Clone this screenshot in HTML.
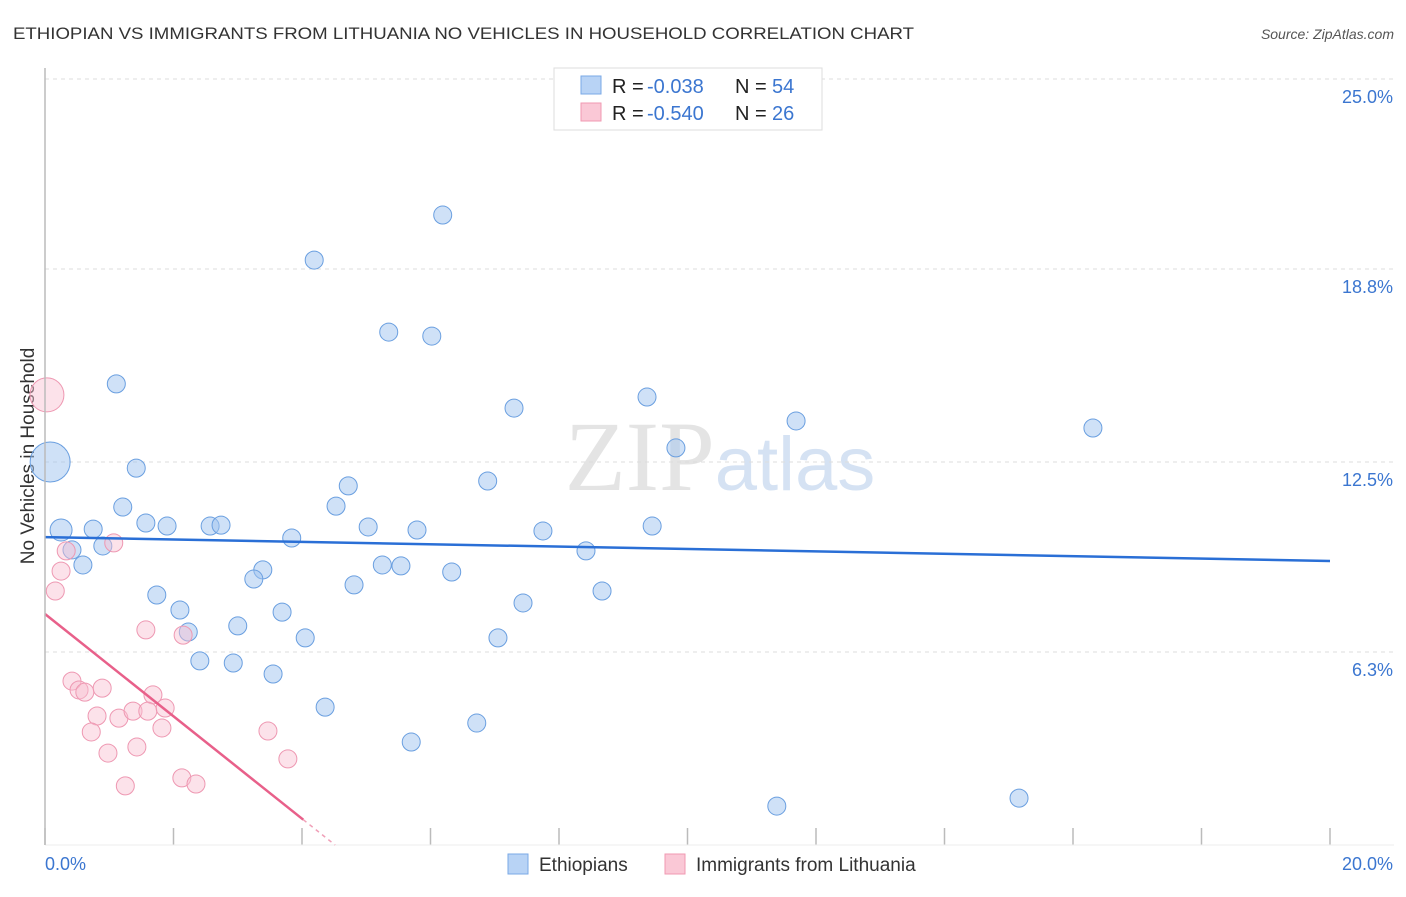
<!DOCTYPE html>
<html><head><meta charset="utf-8"><style>
body{margin:0;background:#fff;font-family:"Liberation Sans",sans-serif}
</style></head><body>
<svg id="chart" width="1406" height="892" xmlns="http://www.w3.org/2000/svg" font-family="Liberation Sans, sans-serif">
<text x="13" y="39" font-size="17" fill="#333" textLength="901" lengthAdjust="spacingAndGlyphs">ETHIOPIAN VS IMMIGRANTS FROM LITHUANIA NO VEHICLES IN HOUSEHOLD CORRELATION CHART</text>
<text x="1394" y="39" font-size="14" fill="#555" font-style="italic" text-anchor="end">Source: ZipAtlas.com</text>
<text x="720" y="490" font-size="100" fill="#e4e4e4" text-anchor="middle" font-family="Liberation Serif, serif">ZIP<tspan fill="#d5e2f3" font-family="Liberation Sans, sans-serif" font-size="76">atlas</tspan></text>
<text transform="translate(34,456) rotate(-90)" font-size="19" fill="#333" text-anchor="middle">No Vehicles in Household</text>
<g id="grid"></g><g id="ticks"></g><g id="pts"></g><g id="trend"></g>
<line x1="45" y1="68" x2="45" y2="845" stroke="#bbb" stroke-width="1.5"/>
<g>
<rect x="554" y="68" width="268" height="62" fill="#fff" stroke="#ddd"/>
<rect x="581" y="76" width="20" height="18" fill="#b8d3f5" stroke="#7aa8e6"/>
<rect x="581" y="103" width="20" height="18" fill="#fac8d6" stroke="#f099b2"/>
<text x="612" y="93" font-size="20" fill="#222">R =</text><text x="647" y="93" font-size="20" fill="#3b76d0">-0.038</text>
<text x="735" y="93" font-size="20" fill="#222">N =</text><text x="772" y="93" font-size="20" fill="#3b76d0">54</text>
<text x="612" y="120" font-size="20" fill="#222">R =</text><text x="647" y="120" font-size="20" fill="#3b76d0">-0.540</text>
<text x="735" y="120" font-size="20" fill="#222">N =</text><text x="772" y="120" font-size="20" fill="#3b76d0">26</text>
</g>
<g>
<rect x="508" y="854" width="20" height="20" fill="#b8d3f5" stroke="#7aa8e6"/>
<text x="539" y="871" font-size="19" fill="#333">Ethiopians</text>
<rect x="665" y="854" width="20" height="20" fill="#fac8d6" stroke="#f099b2"/>
<text x="696" y="871" font-size="19" fill="#333">Immigrants from Lithuania</text>
</g>
</svg>
<script>
const xTicks=[0,20];
const yTicks=[25,18.8,12.5,6.3];
const blueX=[6.19,4.19,5.35,6.02,1.11,9.37,7.30,11.69,16.31,9.82,1.42,6.89,4.72,1.21,4.53,0.25,0.75,1.57,1.90,2.57,2.74,5.03,5.79,7.75,9.45,3.84,0.42,0.90,8.42,0.59,5.25,5.54,3.39,6.33,3.25,4.81,1.74,8.67,2.10,3.69,7.44,2.23,3.00,4.05,7.05,2.41,2.93,3.55,4.36,6.72,5.70,11.39,15.16,0.08];
const blueY=[20.56,19.09,16.74,16.61,15.05,14.62,14.26,13.84,13.61,12.96,12.30,11.88,11.72,11.03,11.06,10.28,10.31,10.51,10.41,10.41,10.44,10.38,10.28,10.25,10.41,10.02,9.63,9.76,9.60,9.14,9.14,9.11,8.98,8.91,8.68,8.49,8.16,8.29,7.67,7.60,7.90,6.95,7.15,6.76,6.76,6.01,5.94,5.58,4.50,3.98,3.36,1.27,1.53,12.50];
const blueR=[9,9,9,9,9,9,9,9,9,9,9,9,9,9,9,11,9,9,9,9,9,9,9,9,9,9,9,9,9,9,9,9,9,9,9,9,9,9,9,9,9,9,9,9,9,9,9,9,9,9,9,9,9,20];
const pinkX=[0.03,1.07,0.33,0.25,0.16,1.57,2.15,0.42,0.53,0.62,0.89,1.68,0.81,1.15,1.37,1.60,1.87,0.72,1.82,3.47,0.98,1.43,3.78,2.13,2.35,1.25];
const pinkY=[14.69,9.86,9.60,8.94,8.29,7.02,6.85,5.35,5.06,4.99,5.12,4.90,4.21,4.14,4.37,4.37,4.47,3.69,3.82,3.72,3.00,3.20,2.81,2.19,1.99,1.93];
const pinkR=[17,9,9,9,9,9,9,9,9,9,9,9,9,9,9,9,9,9,9,9,9,9,9,9,9,9];
const blueTrend=[10.05,-0.039];
const pinkTrend=[7.54,-1.67];
const NS="http://www.w3.org/2000/svg";
const sx=v=>45+v*64.25, sy=v=>845-v*30.64;
function mk(parent,tag,attrs){const e=document.createElementNS(NS,tag);for(const k in attrs)e.setAttribute(k,attrs[k]);document.getElementById(parent).appendChild(e);return e;}
yTicks.forEach(t=>{
 const l=mk('grid','line',{x1:45,x2:1394,y1:sy(t),y2:sy(t),stroke:'#ddd','stroke-dasharray':'4,4'});
 
 
 const tx=mk('grid','text',{x:1393,y:sy(t)+24,'font-size':18,fill:'#3b76d0','text-anchor':'end'});
 tx.textContent=t.toFixed(1)+'%';
 
 
});
for(let i=0;i<=10;i++){
 const l=mk('ticks','line',{x1:sx(i*2),x2:sx(i*2),y1:828,y2:845,stroke:'#bbb','stroke-width':1.5});
 
 
}
mk('ticks','line',{x1:45,x2:1394,y1:845,y2:845,stroke:'#eee'});
xTicks.forEach((t,i)=>{
 const tx=mk('ticks','text',{x:i?1393:45,y:870,'font-size':18,fill:'#3b76d0','text-anchor':i?'end':'start'});
 tx.textContent=t.toFixed(1)+'%';
 
 
});
blueX.forEach((v,i)=>{
 const c=mk('pts','circle',{cx:sx(v),cy:sy(blueY[i]),r:blueR[i],fill:'rgba(160,196,240,0.5)',stroke:'#6a9fe0','stroke-width':1});
 
 
});
pinkX.forEach((v,i)=>{
 const c=mk('pts','circle',{cx:sx(v),cy:sy(pinkY[i]),r:pinkR[i],fill:'rgba(248,190,208,0.45)',stroke:'#ee98b2','stroke-width':1});
 
 
});
const bl=mk('trend','line',{x1:sx(0),y1:sy(blueTrend[0]),x2:sx(20),y2:sy(blueTrend[0]+blueTrend[1]*20),stroke:'#2a6fd6','stroke-width':2.5});


const xe=4.02, xz=-pinkTrend[0]/pinkTrend[1];
const pl=mk('trend','line',{x1:sx(0),y1:sy(pinkTrend[0]),x2:sx(xe),y2:sy(pinkTrend[0]+pinkTrend[1]*xe),stroke:'#e8608a','stroke-width':2.5});


const pd=mk('trend','line',{x1:sx(xe),y1:sy(pinkTrend[0]+pinkTrend[1]*xe),x2:sx(xz),y2:sy(0),stroke:'#f0a0b8','stroke-width':1.5,'stroke-dasharray':'4,4'});


</script>
</body></html>
